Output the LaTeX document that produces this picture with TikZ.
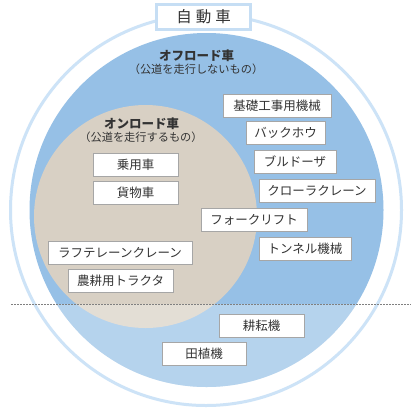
\documentclass[tikz,border=0pt]{standalone}
\usepackage{fontspec}
\setmainfont{Noto Sans CJK JP}
\definecolor{ringblue}{HTML}{CDE3F7}
\definecolor{offblue}{HTML}{96C0E6}
\definecolor{onbeige}{HTML}{D8D0C4}
\definecolor{boxgray}{HTML}{A6A6A6}
\definecolor{txt}{HTML}{333333}
\definecolor{titleborder}{HTML}{C6DEF4}
\tikzset{
  itembox/.style={draw=boxgray, line width=0.8pt, fill=white, inner sep=0pt,
    minimum height=23pt, text=txt, font=\fontsize{12.5}{14}\selectfont},
  headlabel/.style={text=txt, inner sep=0pt, font=\bfseries\fontsize{12.5}{14}\selectfont},
  sublabel/.style={text=txt, inner sep=0pt, font=\fontsize{11.2}{13}\selectfont},
}
\begin{document}
\begin{tikzpicture}[x=1pt,y=-1pt]
\useasboundingbox (0,0) rectangle (411,410);
\fill[white] (0,0) rectangle (411,410);
% outer ring
\draw[ringblue, line width=3pt] (206,210) circle[radius=195.5];
% off-road circle
\fill[offblue] (206.5,210) circle[radius=177];
% on-road circle
\fill[onbeige] (145.5,216.5) circle[radius=111.5];
% lighter lower part
\begin{scope}
  \clip (206.5,210) circle[radius=177];
  \fill[white, opacity=0.3] (0,304) rectangle (411,410);
\end{scope}
% dotted divider
\draw[gray, line width=0.7pt, dash pattern=on 1.5pt off 1.5pt] (11,304) -- (411,304);
% labels
\node[headlabel] (off) at (196.5,55.5) {オフロード車};
\node[sublabel] (offsub) at (196,69.5) {（公道を走行しないもの）};
\node[headlabel] (on) at (141.5,124) {オンロード車};
\node[sublabel] (onsub) at (141,137) {（公道を走行するもの）};
% boxes
\node[itembox, minimum width=108pt] (kiso) at (277,105.5) {基礎工事用機械};
\node[itembox, minimum width=79pt] (back) at (285.5,133) {バックホウ};
\node[itembox, minimum width=82pt] (bull) at (295,162) {ブルドーザ};
\node[itembox, minimum width=116pt] (crawler) at (317,190.5) {クローラクレーン};
\node[itembox, minimum width=106pt] (fork) at (254,220) {フォークリフト};
\node[itembox, minimum width=92pt] (tunnel) at (305,248.5) {トンネル機械};
\node[itembox, minimum width=85pt] (jyo) at (135.5,164.5) {乗用車};
\node[itembox, minimum width=85pt] (kamotsu) at (135.5,192.5) {貨物車};
\node[itembox, minimum width=144pt] (rough) at (120,252.5) {ラフテレーンクレーン};
\node[itembox, minimum width=105pt] (tractor) at (120.5,280.5) {農耕用トラクタ};
\node[itembox, minimum width=85pt] (kouun) at (261.5,325.5) {耕耘機};
\node[itembox, minimum width=84pt] (taue) at (204,353.5) {田植機};
% title
\node[draw=titleborder, line width=3pt, fill=white, minimum width=94pt, minimum height=25pt,
  inner sep=0pt, text=txt, font=\fontsize{15.5}{17}\selectfont] (title) at (203.5,17)
  {自\hspace{4pt}動\hspace{4pt}車};
\end{tikzpicture}
\end{document}
